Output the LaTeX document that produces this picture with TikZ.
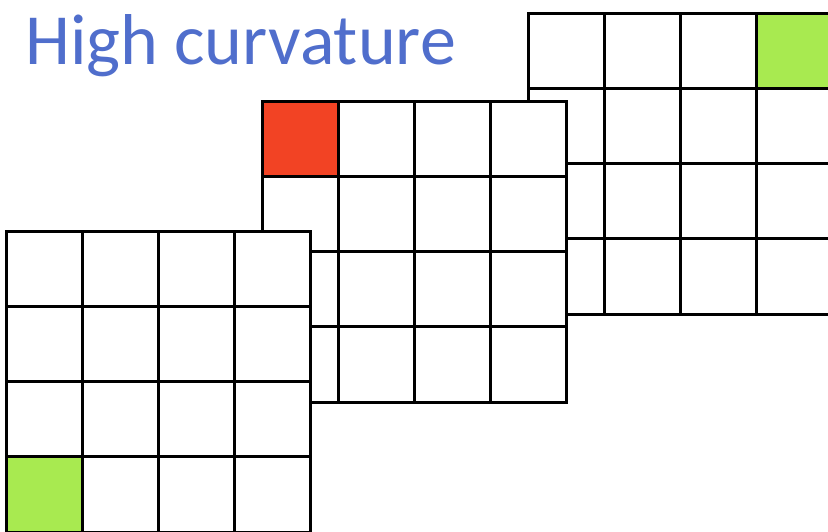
\documentclass[tikz,border=0pt]{standalone}
\usepackage{fontspec}
\setmainfont{Carlito}
\definecolor{titleblue}{RGB}{80,110,204}
\definecolor{cellred}{RGB}{242,67,36}
\definecolor{cellgreen}{RGB}{168,234,80}
\begin{document}
\begin{tikzpicture}[x=1pt,y=-1pt,
  cell/.style={draw=black,line width=3pt,fill=white,minimum width=76pt,minimum height=75.3pt,inner sep=0pt,anchor=north west,outer sep=0pt},
  redcell/.style={cell,fill=cellred},
  greencell/.style={cell,fill=cellgreen},
  title/.style={text=titleblue,font=\fontsize{72}{72}\selectfont,anchor=base west,inner sep=0pt}]
\useasboundingbox (0,0) rectangle (828,531);
\clip (0,0) rectangle (828,531);
% back grid (top right)
\foreach \r in {0,...,3}{\foreach \c in {0,...,3}{
  \node[cell] (c-\r-\c) at ({528+76*\c},{13+75.3*\r}) {};}}
\node[greencell] (c-green) at ({528+76*3},13) {};
% middle grid
\foreach \r in {0,...,3}{\foreach \c in {0,...,3}{
  \node[cell] (b-\r-\c) at ({262+76*\c},{101+75.3*\r}) {};}}
\node[redcell] (b-red) at (262,101) {};
% front grid
\foreach \r in {0,...,3}{\foreach \c in {0,...,3}{
  \node[cell] (a-\r-\c) at ({6+76*\c},{231+75.3*\r}) {};}}
\node[greencell] (a-green) at (6,{231+75.3*3}) {};
\node[title] (t) at (25,64) {High curvature};
\end{tikzpicture}
\end{document}
